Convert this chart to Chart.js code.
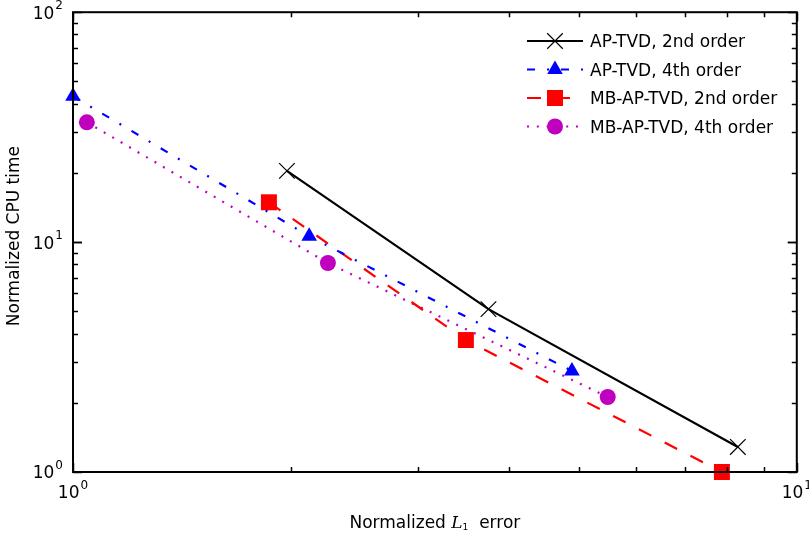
<!DOCTYPE html>
<html>
<head>
<meta charset="utf-8">
<script src="https://cdn.jsdelivr.net/npm/chart.js@4"></script>
<style>
  html, body { margin: 0; padding: 0; background: #fff; }
  #wrap { width: 809px; height: 539px; }
</style>
</head>
<body>
<div id="wrap"><canvas id="plot"></canvas></div>
<script>
// valores (error normalizado, tiempo CPU normalizado)
let apTvd2Err  = [1.975, 3.75, 8.29];
let apTvd2Cpu  = [20.4, 5.11, 1.285];
let apTvd4Err  = [1.0, 2.12, 4.89];
let apTvd4Cpu  = [43.1, 10.6, 2.75];
let mbTvd2Err  = [1.865, 3.49, 7.88];
let mbTvd2Cpu  = [14.9, 3.75, 1.0];
let mbTvd4Err  = [1.045, 2.25, 5.48];
let mbTvd4Cpu  = [33.2, 8.11, 2.12];

let etiquetas = ['AP-TVD, 2nd order', 'AP-TVD, 4th order', 'MB-AP-TVD, 2nd order', 'MB-AP-TVD, 4th order'];
let xTicks = [1, 10];
let yTicks = [1, 10, 100];

let pares = (xs, ys) => xs.map((x, i) => ({x: x, y: ys[i]}));

let fuente = '"DejaVu Sans", sans-serif';

// dibuja "10" con exponente
let dibujaPotencia = (ctx, base, exp, x, y, alinear) => {
  ctx.font = '17px ' + fuente;
  let wb = ctx.measureText(base).width;
  ctx.font = '12px ' + fuente;
  let we = ctx.measureText(exp).width;
  let total = wb + we + 1;
  let x0 = alinear === 'right' ? x - total : x - total / 2;
  ctx.textAlign = 'left';
  ctx.textBaseline = 'middle';
  ctx.fillStyle = '#000';
  ctx.font = '17px ' + fuente;
  ctx.fillText(base, x0, y);
  ctx.font = '12px ' + fuente;
  ctx.fillText(exp, x0 + wb + 1, y - 8);
};

let marcoPlugin = {
  id: 'marco',
  afterDatasetsDraw(chart) {
    let ctx = chart.ctx;
    let a = chart.chartArea;
    let sx = chart.scales.x, sy = chart.scales.y;
    ctx.save();
    ctx.strokeStyle = '#000';
    ctx.lineWidth = 2;
    ctx.strokeRect(a.left, a.top, a.right - a.left, a.bottom - a.top);
    ctx.lineWidth = 1.5;
    // ticks x
    for (let d = 1; d <= 10; d++) {
      let px = Math.round(sx.getPixelForValue(d)) + 0.5;
      let largo = (d === 1 || d === 10) ? 9 : 5;
      ctx.beginPath();
      ctx.moveTo(px, a.bottom); ctx.lineTo(px, a.bottom - largo);
      ctx.moveTo(px, a.top); ctx.lineTo(px, a.top + largo);
      ctx.stroke();
    }
    // ticks y
    for (let dec = 1; dec <= 10; dec *= 10) {
      for (let m = 1; m <= 10; m++) {
        let v = dec * m;
        if (v > 100) continue;
        let py = Math.round(sy.getPixelForValue(v)) + 0.5;
        let largo = (m === 1 || m === 10) ? 9 : 5;
        ctx.beginPath();
        ctx.moveTo(a.left, py); ctx.lineTo(a.left + largo, py);
        ctx.moveTo(a.right, py); ctx.lineTo(a.right - largo, py);
        ctx.stroke();
      }
    }
    // etiquetas de ticks
    let sup = {0: '0', 1: '1', 2: '2'};
    xTicks.forEach(v => {
      dibujaPotencia(ctx, '10', sup[Math.round(Math.log10(v))], sx.getPixelForValue(v), a.bottom + 22, 'center');
    });
    yTicks.forEach(v => {
      dibujaPotencia(ctx, '10', sup[Math.round(Math.log10(v))], a.left - 10, sy.getPixelForValue(v) + 2, 'right');
    });
    // titulo eje y
    ctx.save();
    ctx.translate(15, (a.top + a.bottom) / 2 - 6);
    ctx.rotate(-Math.PI / 2);
    ctx.textAlign = 'center';
    ctx.textBaseline = 'middle';
    ctx.font = '17px ' + fuente;
    ctx.fillText('Normalized CPU time', 0, 0);
    ctx.restore();
    // titulo eje x con L cursiva
    let partes = [
      {t: 'Normalized ', f: '17px ' + fuente, dy: 0},
      {t: 'L', f: 'italic 17px "DejaVu Serif", serif', dy: 0},
      {t: '1', f: '9px ' + fuente, dy: 4},
      {t: '  error', f: '17px ' + fuente, dy: 0}
    ];
    let ancho = 0;
    partes.forEach(p => { ctx.font = p.f; p.w = ctx.measureText(p.t).width; ancho += p.w; });
    let xx = (a.left + a.right) / 2 - ancho / 2;
    ctx.textAlign = 'left';
    ctx.textBaseline = 'middle';
    partes.forEach(p => { ctx.font = p.f; ctx.fillText(p.t, xx, 524 + p.dy); xx += p.w; });
    // leyenda
    chart.data.datasets.forEach((ds, i) => {
      let y = 41 + i * 28.5;
      ctx.save();
      ctx.strokeStyle = ds.borderColor;
      ctx.lineWidth = ds.borderWidth;
      ctx.setLineDash(ds.borderDash || []);
      ctx.beginPath();
      ctx.moveTo(527, y); ctx.lineTo(583, y);
      ctx.stroke();
      ctx.setLineDash([]);
      ctx.fillStyle = ds.pointBackgroundColor;
      ctx.strokeStyle = ds.pointBorderColor;
      ctx.lineWidth = ds.pointBorderWidth || 0.01;
      Chart.helpers.drawPoint(ctx, {
        pointStyle: ds.pointStyle,
        radius: ds.pointRadius,
        rotation: 0,
        borderWidth: ds.pointBorderWidth
      }, 555, y);
      ctx.restore();
      ctx.fillStyle = '#000';
      ctx.font = '17px ' + fuente;
      ctx.textAlign = 'left';
      ctx.textBaseline = 'middle';
      ctx.fillText(ds.label, 590, y + 2);
    });
    ctx.restore();
  }
};

let serie = (label, xs, ys, color, dash, estilo, radio, relleno) => ({
  label: label,
  data: pares(xs, ys),
  borderColor: color,
  borderWidth: 2.2,
  borderDash: dash,
  pointStyle: estilo,
  pointRadius: radio,
  pointBackgroundColor: relleno ? color : 'rgba(0,0,0,0)',
  pointBorderColor: color,
  pointBorderWidth: relleno ? 0 : 1.2,
  pointHoverRadius: radio,
  tension: 0,
  fill: false,
  clip: false
});

let datasets = [
  serie(etiquetas[0], apTvd2Err, apTvd2Cpu, '#000000', [], 'crossRot', 11, false),
  serie(etiquetas[1], apTvd4Err, apTvd4Cpu, '#0000ff', [8, 12, 2, 12], 'triangle', 9, true),
  serie(etiquetas[2], mbTvd2Err, mbTvd2Cpu, '#ff0000', [14, 15], 'rect', 11.3, true),
  serie(etiquetas[3], mbTvd4Err, mbTvd4Cpu, '#bf00bf', [2, 7.8], 'circle', 8, true)
];

let plotRef = document.getElementById('plot');
let config = {
  type: 'scatter',
  data: { datasets: datasets },
  options: {
    responsive: true,
    maintainAspectRatio: false,
    animation: false,
    showLine: true,
    layout: { padding: { left: 73, right: 12, top: 12, bottom: 67 } },
    scales: {
      x: { type: 'logarithmic', min: 1, max: 10, display: false },
      y: { type: 'logarithmic', min: 1, max: 100, display: false }
    },
    plugins: {
      legend: { display: false },
      tooltip: { enabled: false }
    }
  },
  plugins: [marcoPlugin]
};

let chart1 = new Chart(plotRef, config);
</script>
</body>
</html>
